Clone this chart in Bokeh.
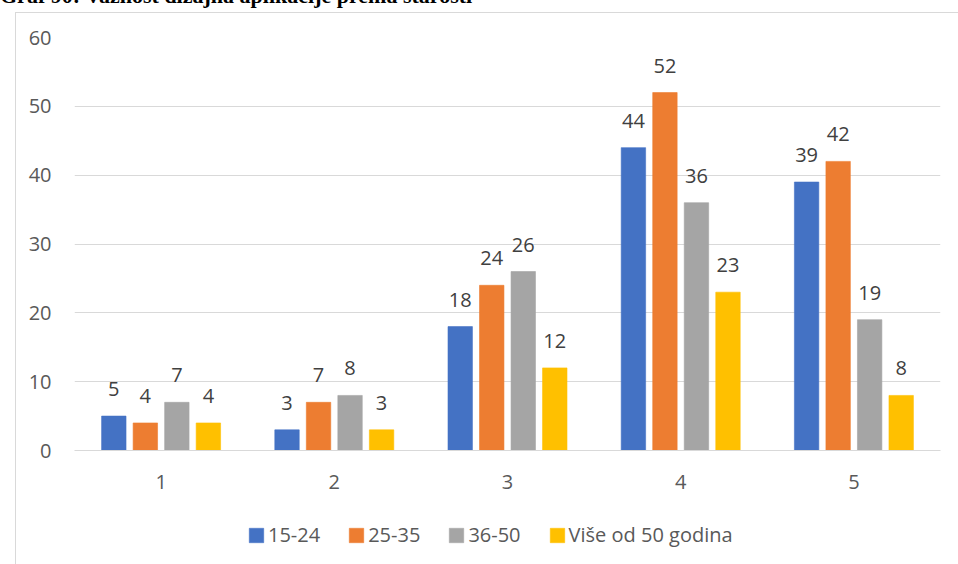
from bokeh.plotting import figure
from bokeh.models import ColumnDataSource, FixedTicker, Legend, LegendItem, Div, Range1d
from bokeh.transform import dodge
from bokeh.core.properties import value
from bokeh.embed import file_html
from bokeh.resources import INLINE

title_text = "Graf 90:  Važnost dizajna aplikacije prema starosti"
categories = [1, 2, 3, 4, 5]
series_names = ["15-24", "25-35", "36-50", "Više od 50 godina"]
s15_24 = [5, 3, 18, 44, 39]
s25_35 = [4, 7, 24, 52, 42]
s36_50 = [7, 8, 26, 36, 19]
s50plus = [4, 3, 12, 23, 8]
colors = ["#4472C4", "#ED7D31", "#A5A5A5", "#FFC000"]
y_ticks = [0, 10, 20, 30, 40, 50, 60]

FONT = "Open Sans"
TXT = "#595959"

src = ColumnDataSource(dict(
    x=categories,
    a=s15_24, b=s25_35, c=s36_50, d=s50plus,
    la=[str(v) for v in s15_24], lb=[str(v) for v in s25_35],
    lc=[str(v) for v in s36_50], ld=[str(v) for v in s50plus],
))

p = figure(width=958, height=564, output_backend="svg", toolbar_location=None,
           x_range=Range1d(0.5, 5.5), y_range=Range1d(0, 60),
           min_border_left=74, min_border_right=18, min_border_top=37, min_border_bottom=114)
p.outline_line_color = None
p.background_fill_color = "white"
p.border_fill_color = "white"

# separate strip that carries only the legend below the chart
# (its y range lies above all bar values, so its bars stay out of view)
lg = figure(width=958, height=40, output_backend="svg", toolbar_location=None,
            x_range=Range1d(0.5, 5.5), y_range=Range1d(100, 160),
            x_axis_type=None, y_axis_type=None,
            min_border_left=0, min_border_right=0, min_border_top=0, min_border_bottom=0)
lg.outline_line_color = None
lg.grid.visible = False
lg.background_fill_alpha = 0
lg.border_fill_alpha = 0

offsets = [-0.273, -0.091, 0.091, 0.273]
keys = ["a", "b", "c", "d"]
lkeys = ["la", "lb", "lc", "ld"]
items = []
for off, k, lk, col, name in zip(offsets, keys, lkeys, colors, series_names):
    p.vbar(x=dodge("x", off, range=p.x_range), top=k, width=0.141, source=src,
           fill_color=col, line_color=col, line_alpha=0.6, line_width=1)
    p.text(x=dodge("x", off, range=p.x_range), y=k, text=lk, source=src,
           text_align="center", text_baseline="alphabetic", y_offset=-27,
           text_font=value(FONT), text_font_size="20px", text_color="#404040")
    r = lg.vbar(x=dodge("x", off, range=lg.x_range), top=k, width=0.141, source=src,
                fill_color=col, line_color=col, line_alpha=0.6, line_width=1)
    items.append(LegendItem(label=name, renderers=[r]))

p.xaxis.ticker = FixedTicker(ticks=categories)
p.yaxis.ticker = FixedTicker(ticks=y_ticks)
p.xgrid.grid_line_color = None
p.ygrid.grid_line_color = "#d9d9d9"
p.ygrid.grid_line_width = 1

for ax in (p.xaxis, p.yaxis):
    ax.major_tick_line_color = None
    ax.minor_tick_line_color = None
    ax.major_label_text_font = FONT
    ax.major_label_text_font_size = "20px"
    ax.major_label_text_color = TXT
p.yaxis.axis_line_color = None
p.yaxis.major_label_standoff = 17
p.xaxis.axis_line_color = "#d9d9d9"
p.xaxis.axis_line_width = 1
p.xaxis.major_label_standoff = 18

legend = Legend(items=items, orientation="horizontal", location=(247, 6),
                glyph_width=18, glyph_height=18, label_standoff=3, spacing=27,
                padding=0, margin=0, border_line_color=None, background_fill_alpha=0,
                label_text_font=FONT, label_text_font_size="20px", label_text_color=TXT)
lg.add_layout(legend, "center")

p.styles = {"position": "absolute", "left": "0px", "top": "0px"}
lg.styles = {"position": "absolute", "left": "0px", "top": "514px"}

title = Div(text=title_text, width=760, height=22,
            styles={"position": "absolute", "left": "0px", "top": "-15px",
                    "font-family": "'Liberation Serif', serif", "font-weight": "bold",
                    "font-size": "22px", "line-height": "22px", "color": "black",
                    "margin": "0", "padding": "0", "white-space": "nowrap"})

frame_box = Div(text="", width=947, height=556,
                styles={"position": "absolute", "left": "10px", "top": "7px",
                        "border-left": "1px solid #d9d9d9", "border-top": "1px solid #d9d9d9",
                        "pointer-events": "none"})

open("out.html", "w").write(file_html([p, lg, title, frame_box], INLINE))
